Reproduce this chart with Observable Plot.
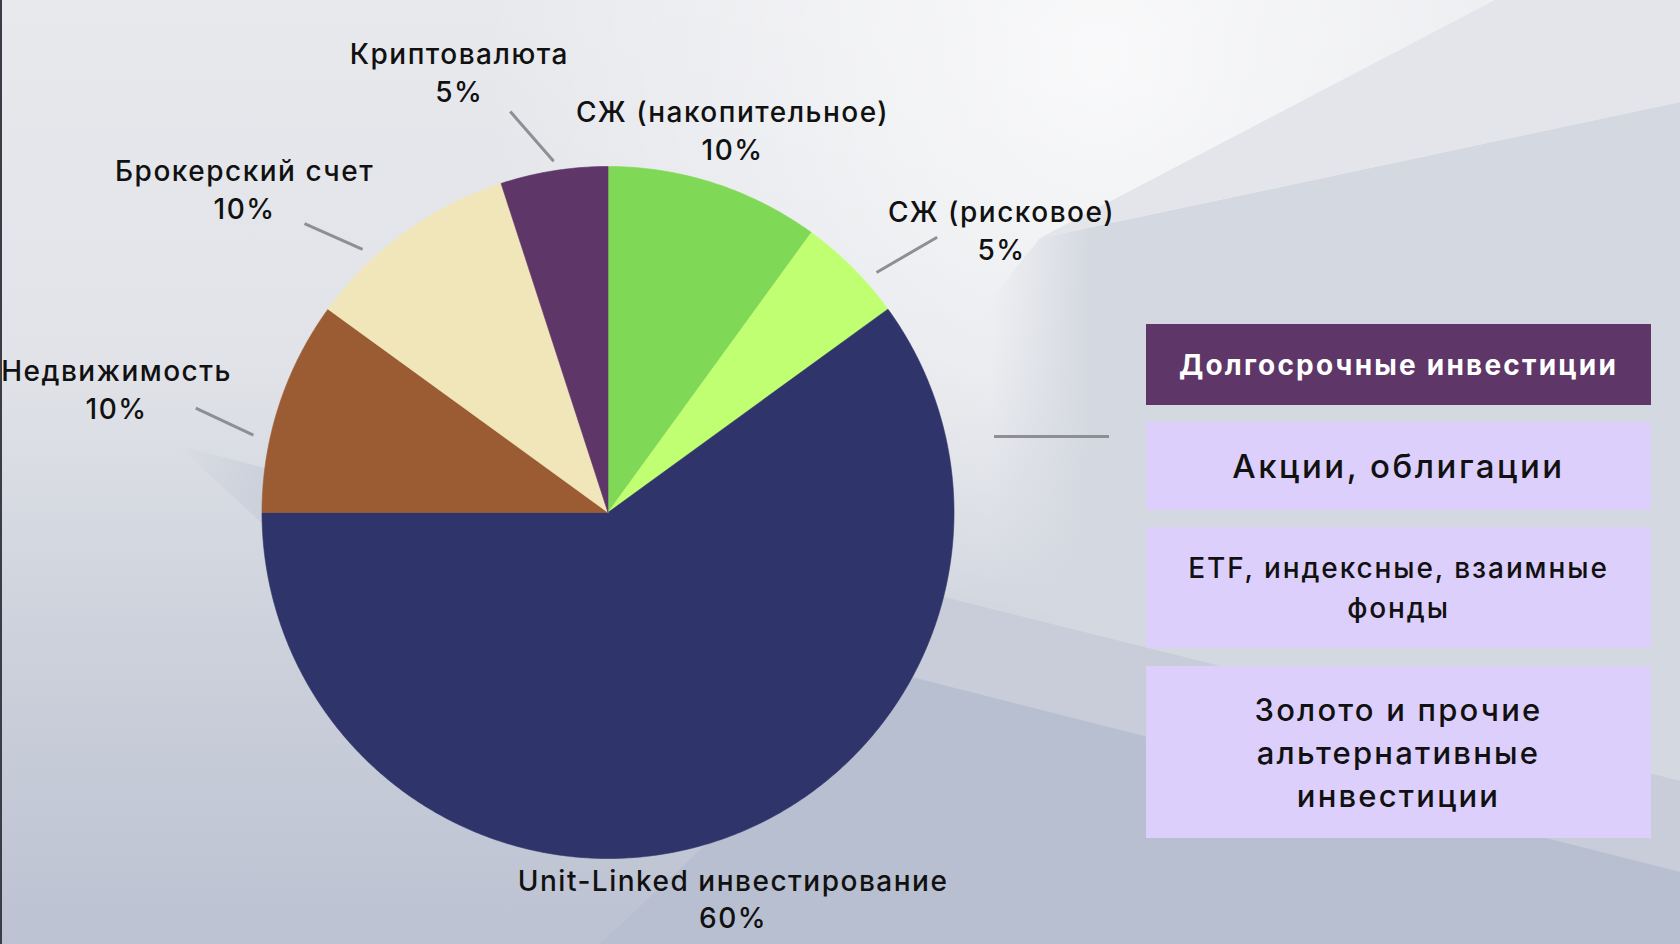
<!DOCTYPE html>
<html><head><meta charset="utf-8">
<script src="https://cdn.jsdelivr.net/npm/d3@7"></script>
<script src="https://cdn.jsdelivr.net/npm/@observablehq/plot@0.6"></script>
<style>
html,body{margin:0;padding:0;width:1680px;height:944px;overflow:hidden;background:#d9dce3;}
#stage{position:relative;width:1680px;height:944px;font-family:Inter,"Open Sans",sans-serif;}
#bg,#chart{position:absolute;left:0;top:0;}
#chart text{letter-spacing:1.5px;}
.panel{position:absolute;left:1146px;width:505px;display:flex;align-items:center;justify-content:center;text-align:center;color:#111;box-sizing:border-box;font-weight:500;}
.connector{position:absolute;left:994px;top:435px;width:115px;height:3px;background:#8d8f94;}
.edge{position:absolute;left:0;top:0;width:2px;height:944px;background:#3a3d45;}
</style></head>
<body>
<div id="stage">
<svg id="bg" width="1680" height="944" viewBox="0 0 1680 944">
  <defs>
    <linearGradient id="base" x1="0" y1="0" x2="0" y2="1">
      <stop offset="0" stop-color="#e8e9ed"/>
      <stop offset="0.38" stop-color="#e1e3e8"/>
      <stop offset="0.72" stop-color="#cacfda"/>
      <stop offset="1" stop-color="#bcc2d2"/>
    </linearGradient>
    <radialGradient id="glow" cx="1100" cy="60" r="620" gradientUnits="userSpaceOnUse">
      <stop offset="0" stop-color="#ffffff" stop-opacity="0.75"/>
      <stop offset="1" stop-color="#ffffff" stop-opacity="0"/>
    </radialGradient>
    <linearGradient id="rightfade" gradientUnits="userSpaceOnUse" x1="990" y1="0" x2="1090" y2="0">
      <stop offset="0" stop-color="#d4d8e0" stop-opacity="0"/>
      <stop offset="1" stop-color="#d4d8e0" stop-opacity="1"/>
    </linearGradient>
    <linearGradient id="fold" gradientUnits="userSpaceOnUse" x1="177" y1="0" x2="280" y2="0">
      <stop offset="0" stop-color="#c4c9d6" stop-opacity="0"/>
      <stop offset="1" stop-color="#c4c9d6" stop-opacity="0.7"/>
    </linearGradient>
  </defs>
  <rect width="1680" height="944" fill="url(#base)"/>
  <rect width="1680" height="944" fill="url(#glow)"/>
  <polygon points="1040,238 1680,102 1680,781 920,591 953,512 990,300" fill="url(#rightfade)"/>
  <polygon points="1040,238 1495,0 1680,0 1680,102" fill="#e3e5ea"/>
  <polygon points="920,591 1680,781 1680,872 880,669" fill="#c8cdd9"/>
  <polygon points="880,669 1680,872 1680,944 600,944 700,850 800,760" fill="#b8bfd0"/>
  <polygon points="177,445 280,472 280,540" fill="url(#fold)"/>
</svg>
<div id="chart"></div>
<div class="connector"></div>
<div class="panel" id="p0" style="top:324px;height:81px;background:#5e3668;color:#fff;font-weight:700;font-size:28px;letter-spacing:2.2px;"></div>
<div class="panel" id="p1" style="top:422px;height:88px;background:#ddcffb;font-size:33px;letter-spacing:2.5px;"></div>
<div class="panel" id="p2" style="top:527px;height:121px;background:#ddcffb;font-size:28px;line-height:40px;letter-spacing:1.9px;padding:0 14px;"></div>
<div class="panel" id="p3" style="top:666px;height:172px;background:#ddcffb;font-size:31px;line-height:43px;letter-spacing:2.2px;padding:0 60px;"></div>
<div class="edge"></div>
</div>
<script>
// ---- data ----
const categories = ["СЖ (накопительное)", "СЖ (рисковое)", "Unit-Linked инвестирование", "Недвижимость", "Брокерский счет", "Криптовалюта"];
const shares = [10, 5, 60, 10, 10, 5];
const sliceColors = ["#7fd957", "#c1ff72", "#2f346a", "#9b5c33", "#f1e6b9", "#5e3668"];
const panelTitle = "Долгосрочные инвестиции";
const panelItems = ["Акции, облигации", "ETF, индексные, взаимные фонды", "Золото и прочие альтернативные инвестиции"];

// ---- layout ----
const W = 1680, H = 944, CX = 607.5, CY = 512, R = 346;
const labelPlace = [[18, 1.165], [54.2, 1.402], [162, 1.17], [284.2, 1.465], [311.8, 1.409], [341.4, 1.347]];
const leaderPlace = [null, [48.2, 1.041, 50.1, 1.24], null, [282.3, 1.049, 284.2, 1.229], [317, 1.04, 313.6, 1.211], [351.2, 1.027, 346.3, 1.193]];

const polar = (deg, r) => ({x: r * Math.sin(deg * Math.PI / 180), y: r * Math.cos(deg * Math.PI / 180)});

const total = d3.sum(shares);
let acc = 0;
const slices = categories.map((c, i) => {
  const a0 = acc / total * 360; acc += shares[i]; const a1 = acc / total * 360;
  const n = Math.max(2, Math.ceil((a1 - a0) / 0.5));
  const pts = [{x: 0, y: 0}];
  for (let k = 0; k <= n; k++) pts.push(polar(a0 + (a1 - a0) * k / n, 1));
  pts.push({x: 0, y: 0});
  return {category: c, color: sliceColors[i], pts};
});

const labels = categories.map((c, i) => ({...polar(...labelPlace[i]), text: c + "\n" + shares[i] + "%"}));
const leaders = leaderPlace.map(l => l && (() => {
  const a = polar(l[0], l[1]), b = polar(l[2], l[3]);
  return {x1: a.x, y1: a.y, x2: b.x, y2: b.y};
})()).filter(Boolean);

const chart = Plot.plot({
  width: W, height: H, margin: 0,
  x: {domain: [-CX / R, (W - CX) / R], axis: null},
  y: {domain: [-(H - CY) / R, CY / R], axis: null},
  style: {background: "transparent", overflow: "visible"},
  marks: [
    ...slices.map(s => Plot.line(s.pts, {x: "x", y: "y", fill: s.color, stroke: s.color, strokeWidth: 0.6})),
    Plot.link(leaders, {x1: "x1", y1: "y1", x2: "x2", y2: "y2", stroke: "#8d8f94", strokeWidth: 3}),
    Plot.text(labels, {x: "x", y: "y", text: "text", fontSize: 28, lineHeight: 1.35, fill: "#111", fontWeight: 500, fontFamily: "Inter, 'Open Sans', sans-serif"})
  ]
});
document.getElementById("chart").appendChild(chart);

document.getElementById("p0").textContent = panelTitle;
panelItems.forEach((t, i) => document.getElementById("p" + (i + 1)).textContent = t);
</script>
</body></html>
